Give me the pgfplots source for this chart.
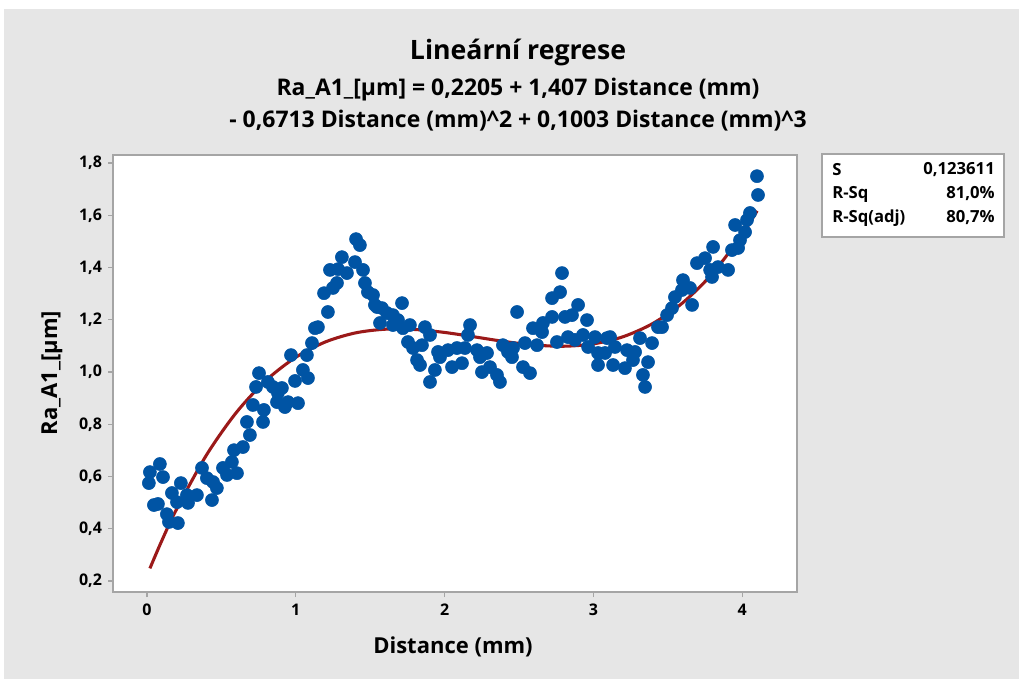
\documentclass[border=0pt]{standalone}
\usepackage{fontspec}
\setmainfont{Open Sans}
\usepackage{pgfplots}
\usepackage{pgfplotstable}
\pgfplotsset{compat=1.18}
\definecolor{bg}{RGB}{230,230,230}
\definecolor{ptc}{RGB}{0,84,164}
\definecolor{fitc}{RGB}{155,25,25}
\definecolor{frame}{RGB}{165,165,165}

\pgfplotstableread{
x y
0.020 0.617
0.013 0.575
0.087 0.648
0.108 0.598
0.047 0.491
0.074 0.495
0.134 0.456
0.148 0.426
0.208 0.422
0.168 0.537
0.228 0.575
0.202 0.502
0.276 0.499
0.269 0.529
0.336 0.529
0.370 0.633
0.403 0.594
0.437 0.510
0.444 0.579
0.470 0.556
0.511 0.633
0.538 0.606
0.571 0.656
0.605 0.613
0.585 0.701
0.645 0.713
0.692 0.759
0.672 0.809
0.712 0.874
0.780 0.809
0.786 0.855
0.733 0.943
0.753 0.996
0.813 0.962
0.847 0.943
0.880 0.920
0.907 0.939
0.874 0.885
0.948 0.885
1.015 0.881
0.927 0.866
0.995 0.966
1.048 1.008
1.082 0.977
0.968 1.065
1.075 1.065
1.109 1.111
1.129 1.168
1.149 1.172
1.216 1.230
1.190 1.302
1.250 1.322
1.277 1.341
1.230 1.391
1.284 1.394
1.310 1.440
1.344 1.379
1.398 1.421
1.405 1.509
1.431 1.486
1.452 1.391
1.465 1.341
1.485 1.306
1.519 1.295
1.546 1.249
1.566 1.188
1.532 1.257
1.579 1.245
1.613 1.226
1.653 1.218
1.714 1.264
1.653 1.180
1.687 1.199
1.720 1.168
1.767 1.180
1.754 1.115
1.788 1.092
1.868 1.172
1.902 1.142
1.848 1.103
1.815 1.046
1.835 1.027
1.935 1.008
1.902 0.962
1.956 1.077
1.969 1.057
2.023 1.084
2.050 1.019
2.083 1.092
2.117 1.034
2.137 1.092
2.171 1.180
2.157 1.142
2.218 1.084
2.238 1.057
2.285 1.073
2.251 1.000
2.305 1.019
2.352 0.989
2.372 0.962
2.392 1.103
2.426 1.077
2.453 1.057
2.460 1.092
2.487 1.230
2.540 1.111
2.527 1.019
2.574 0.996
2.594 1.168
2.621 1.103
2.655 1.153
2.661 1.188
2.722 1.211
2.722 1.283
2.776 1.306
2.789 1.379
2.755 1.115
2.809 1.211
2.856 1.218
2.897 1.257
2.829 1.134
2.876 1.123
2.930 1.142
2.957 1.199
2.964 1.096
3.011 1.134
3.031 1.073
3.031 1.027
3.091 1.130
3.078 1.073
3.112 1.134
3.132 1.027
3.145 1.096
3.226 1.084
3.212 1.015
3.280 1.077
3.266 1.046
3.313 1.130
3.394 1.111
3.367 1.038
3.333 0.989
3.347 0.943
3.434 1.172
3.461 1.172
3.495 1.218
3.528 1.245
3.548 1.287
3.595 1.314
3.602 1.352
3.663 1.257
3.649 1.322
3.696 1.417
3.750 1.436
3.784 1.391
3.797 1.364
3.837 1.402
3.905 1.391
3.804 1.479
3.931 1.467
3.972 1.475
3.985 1.505
4.019 1.536
3.952 1.563
4.032 1.582
4.052 1.609
4.099 1.750
4.106 1.678
}\pts

\pgfplotstableread{
x y
0.02 0.2484
0.1 0.3546
0.2 0.4759
0.4 0.6823
0.6 0.8447
0.8 0.9679
1.0 1.0565
1.2 1.1156
1.4 1.1498
1.6 1.1640
1.8 1.1630
2.0 1.1517
2.2 1.1348
2.4 1.1172
2.6 1.1037
2.8 1.0989
3.0 1.1079
3.2 1.1354
3.4 1.1863
3.6 1.2652
3.8 1.3772
4.0 1.5269
4.1 1.6174
}\fit

\begin{document}
\begin{tikzpicture}
\begin{scope}[x=0.75pt,y=0.75pt]
\fill[white] (0,0) rectangle (1019,679);
\fill[bg] (4,0) rectangle (1019,670);
\coordinate (A) at (113,87);
\end{scope}
\begin{axis}[
  at={(A)}, anchor=south west,
  scale only axis, width=513pt, height=327.75pt,
  xmin=-0.228, xmax=4.368, ymin=0.158, ymax=1.831,
  axis background/.style={fill=white},
  axis line style={frame, line width=1.2pt},
  xtick={0,1,2,3,4},
  ytick={0.2,0.4,0.6,0.8,1.0,1.2,1.4,1.6,1.8},
  yticklabels={{0,2},{0,4},{0,6},{0,8},{1,0},{1,2},{1,4},{1,6},{1,8}},
  xticklabels={0,1,2,3,4},
  xtick pos=bottom, ytick pos=left,
  tick align=outside,
  major tick length=3.75pt,
  tick style={frame, line width=1pt},
  ticklabel style={font=\bfseries\fontsize{12}{14}\selectfont},
  xticklabel style={yshift=-2pt},
  yticklabel style={xshift=-1pt},
]
\addplot[only marks, mark=*, mark size=4.9pt, mark options={draw=ptc, fill=ptc}] table {\pts};
\addplot[fitc, line width=2.3pt, smooth] table {\fit};
\end{axis}
\begin{scope}[x=0.75pt,y=0.75pt]
\node[font=\bfseries\fontsize{20}{24}\selectfont] at (518,627) {Lineární regrese};
\node[font=\bfseries\fontsize{17.2}{20}\selectfont] at (518,589) {Ra\_A1\_[µm] = 0,2205 + 1,407 Distance (mm)};
\node[font=\bfseries\fontsize{17.2}{20}\selectfont] at (518,558) {- 0,6713 Distance (mm)\textasciicircum 2 + 0,1003 Distance (mm)\textasciicircum 3};
\node[font=\bfseries\fontsize{16.5}{19}\selectfont] at (453,32) {Distance (mm)};
\node[font=\bfseries\fontsize{16.5}{19}\selectfont, rotate=90] at (52,306) {Ra\_A1\_[µm]};
\draw[frame, fill=white, line width=1pt] (822,525) rectangle (1004,442);
\begin{scope}[every node/.style={font=\bfseries\fontsize{12.5}{14}\selectfont, inner sep=0pt}]
\node[anchor=west] at (832,509) {S};
\node[anchor=east] at (995,509) {0,123611};
\node[anchor=west] at (832,485) {R-Sq};
\node[anchor=east] at (995,485) {81,0\%};
\node[anchor=west] at (832,461) {R-Sq(adj)};
\node[anchor=east] at (995,461) {80,7\%};
\end{scope}
\end{scope}
\end{tikzpicture}
\end{document}
